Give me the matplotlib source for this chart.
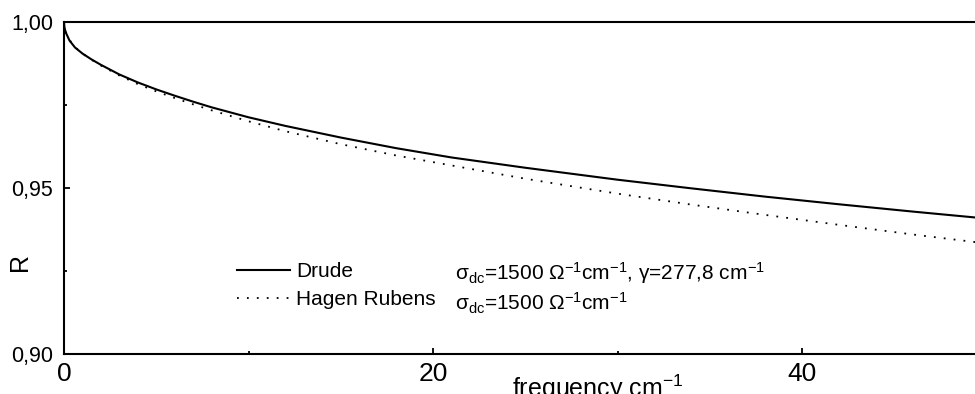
import matplotlib
matplotlib.use('Agg')
import matplotlib.pyplot as plt
from matplotlib.ticker import MultipleLocator, FixedFormatter, FixedLocator

# reflectivity vs frequency, Drude model and Hagen-Rubens approximation

plt.rcParams['font.family'] = ['Liberation Sans', 'DejaVu Sans']
plt.rcParams['mathtext.fontset'] = 'custom'
plt.rcParams['mathtext.rm'] = 'Liberation Sans'
plt.rcParams['mathtext.it'] = 'Liberation Sans:italic'

freq = [0, 0.02, 0.05, 0.1, 0.3, 0.6, 1, 1.5, 2, 3, 4, 5, 6, 7, 8, 10, 12, 15, 18, 21, 25, 30, 34, 38, 42, 46, 50]
drude = [1.000, 0.9986, 0.9978, 0.9968, 0.9944, 0.9923, 0.9905, 0.9887, 0.9871, 0.9842, 0.9818,
         0.9797, 0.9778, 0.976, 0.9743, 0.9713, 0.9687, 0.9652, 0.962, 0.9592, 0.9561, 0.9525,
         0.9499, 0.9474, 0.9451, 0.9429, 0.9408]
hagen_rubens = [1.000, 0.9987, 0.9979, 0.9969, 0.9946, 0.9924, 0.9905, 0.9886, 0.9869, 0.9839, 0.9813,
                0.9791, 0.9771, 0.9752, 0.9734, 0.9701, 0.9671, 0.9632, 0.9598, 0.9568, 0.9528, 0.9483,
                0.945, 0.9419, 0.9389, 0.936, 0.9333]

xticks = [0, 20, 40]
yticks = [0.90, 0.95, 1.00]
ytick_labels = ['0,90', '0,95', '1,00']

W, H = 975, 394
fig = plt.figure(figsize=(W / 100, H / 100), dpi=100)
ax = fig.add_axes([64 / W, 1 - 354 / H, (986.5 - 64) / W, (354 - 22) / H])

ax.plot(freq, drude, color='black', linewidth=1.5, label='Drude')
ax.plot(freq, hagen_rubens, color='black', linewidth=1.3, linestyle=(0, (1, 4.5)), label='Hagen Rubens')

ax.set_xlim(0, 50)
ax.set_ylim(0.90, 1.00)
ax.xaxis.set_major_locator(FixedLocator(xticks))
ax.xaxis.set_minor_locator(MultipleLocator(10))
ax.yaxis.set_major_locator(FixedLocator(yticks))
ax.yaxis.set_major_formatter(FixedFormatter(ytick_labels))
ax.yaxis.set_minor_locator(MultipleLocator(0.025))
ax.tick_params(which='both', direction='in', width=1.3, top=False, right=False)
ax.tick_params(which='major', length=4.5)
ax.tick_params(which='minor', length=2.5)
ax.tick_params(axis='x', labelsize=19, pad=6)
ax.tick_params(axis='y', labelsize=15.5, pad=8)
for s in ax.spines.values():
    s.set_linewidth(1.5)

leg = ax.legend(loc='upper left', bbox_to_anchor=(237 / W, 1 - 262 / H), bbox_transform=fig.transFigure,
                frameon=False, fontsize=15, handlelength=2.55, handletextpad=0.3, labelspacing=0.45,
                borderpad=0, borderaxespad=0)

fig.text(455 / W, 1 - 280 / H, 'σ$_{\\mathrm{dc}}$=1500 Ω$^{\\mathrm{-1}}$cm$^{\\mathrm{-1}}$, γ=277,8 cm$^{\\mathrm{-1}}$',
         fontsize=15, va='baseline', ha='left')
fig.text(455 / W, 1 - 310 / H, 'σ$_{\\mathrm{dc}}$=1500 Ω$^{\\mathrm{-1}}$cm$^{\\mathrm{-1}}$',
         fontsize=15, va='baseline', ha='left')

fig.text(598 / W, 1 - 373 / H, 'frequency cm$^{\\mathrm{-1}}$', fontsize=18, ha='center', va='top')
fig.text(20 / W, 1 - 262 / H, 'R', fontsize=18, rotation=90, ha='center', va='center')

fig.savefig('out.png', dpi=100)
